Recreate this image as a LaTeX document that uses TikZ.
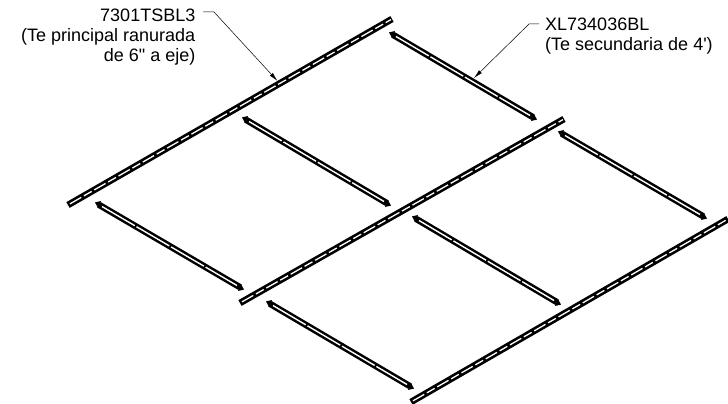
\documentclass[tikz,border=0pt]{standalone}
\usepackage{fontspec}
\newfontfamily\calloutfont{Liberation Sans}
\usetikzlibrary{arrows.meta}
\tikzset{
  every picture/.style={x=1pt,y=-1pt},
  mainbody/.style={black, line width=6.6pt},
  mainslot/.style={white, line width=1.3pt, dash pattern=on 13pt off 3pt on 9pt off 3pt},
  secbody/.style={black, line width=6.4pt},
  secslot/.style={white, line width=1.4pt, dash pattern=on 38pt off 2pt},
  leader/.style={black, line width=0.5pt, -{Latex[length=9pt,width=4pt]}},
  callout/.style={inner sep=0pt, font=\calloutfont\fontsize{18}{20}\selectfont, align=left}
}
\begin{document}
\begin{tikzpicture}
\useasboundingbox (0,0) rectangle (728,404);
% main tees
\foreach \xa/\ya/\xb/\yb in {68/205/392/19, 240/303/564/119, 411/402/728/219}{
  \draw[mainbody] (\xa,\ya) -- (\xb,\yb);
  \draw[mainslot] (\xa+2,\ya-1.15) -- (\xb-1,\yb+0.6);
}
% cross tees
\foreach \xa/\ya/\xb/\yb in {390/33/536/119, 243/118/390/205, 96/203/243/289, 559/132/706/218, 413/217/560/304, 267/302/413/388}{
  \draw[secbody] (\xa+3,\ya+1.8) -- (\xb-3,\yb-1.8);
  \fill[black] (\xa-1,\ya-0.6) -- (\xa+5,\ya-2) -- (\xa+2,\ya+5) -- cycle;
  \fill[black] (\xb+1,\yb+0.6) -- (\xb-5,\yb+2) -- (\xb-2,\yb-5) -- cycle;
  \draw[secslot] (\xa+6,\ya+3.5) -- (\xb-6,\yb-3.5);
}
% labels
\node[callout, anchor=north east, align=right] (mainlabel) at (195.5,9) {7301TSBL3\\(Te principal ranurada\\de 6" a eje)};
\node[callout, anchor=north west] (seclabel) at (545,18) {XL734036BL\\(Te secundaria de 4')};
\coordinate (maintip) at (277.5,81);
\coordinate (sectip) at (474,78);
\draw[leader] (mainlabel.north east) ++(7.5,3) -- ++(11,0) -- (maintip);
\draw[leader] (seclabel.north west) ++(-6,6) -- ++(-10,0) -- (sectip);
\end{tikzpicture}
\end{document}
